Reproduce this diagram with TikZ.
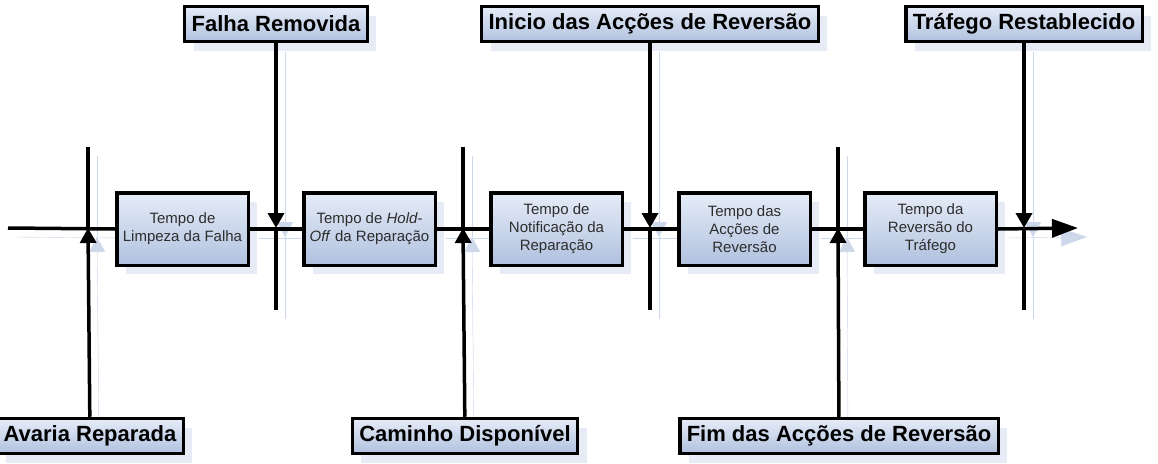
\documentclass[tikz,border=0pt]{standalone}
\usepackage{fontspec}
\newfontfamily\arialfont{Liberation Sans}
\usetikzlibrary{positioning,arrows.meta,shadows,backgrounds}

\definecolor{boxtop}{RGB}{230,236,248}
\definecolor{boxbottom}{RGB}{176,193,222}
\definecolor{shadowblue}{RGB}{205,216,235}
\definecolor{boxtext}{RGB}{45,45,45}

% all timeline strokes, drawn once as shadow and once in ink
\newcommand\timelinks[1]{%
  \draw[#1] (start) -- (limpeza.west);
  \draw[#1] (limpeza.east) -- (holdoff.west);
  \draw[#1] (holdoff.east) -- (notificacao.west);
  \draw[#1] (notificacao.east) -- (accoes.west);
  \draw[#1] (accoes.east) -- (reversao.west);
  \draw[#1,-{Triangle[length=26pt,width=18pt]}] (reversao.east) -- (end);
  \draw[#1,->] (avaria) -- (c1);      \draw[#1] (c1) -- (c1 top);
  \draw[#1,->] (falha) -- (c2);       \draw[#1] (c2) -- (c2 bot);
  \draw[#1,->] (caminho) -- (c3);     \draw[#1] (c3) -- (c3 top);
  \draw[#1,->] (inicio) -- (c4);      \draw[#1] (c4) -- (c4 bot);
  \draw[#1,->] (fim) -- (c5);         \draw[#1] (c5) -- (c5 top);
  \draw[#1,->] (trafego) -- (c6);     \draw[#1] (c6) -- (c6 bot);
}

\begin{document}
\begin{tikzpicture}[x=1pt,y=-1pt,line width=3.5pt,
    >={Triangle[length=15pt,width=16pt]},
    bluefill/.style={draw,line width=3.5pt,top color=boxtop,bottom color=boxbottom,
      drop shadow={shadow xshift=9pt,shadow yshift=-9pt,fill=shadowblue}},
    phase box/.style={bluefill,minimum width=131.5pt,minimum height=72.5pt,align=center,
      inner sep=2pt,text=boxtext,font=\arialfont\fontsize{15}{18}\selectfont},
    event label/.style={bluefill,inner xsep=7pt,inner ysep=2pt,minimum height=35pt,
      font=\arialfont\bfseries\fontsize{22}{26}\selectfont}]
  \useasboundingbox (0,0) rectangle (1158,463);

  % phases along the timeline
  \node[phase box] (limpeza) at (182.5,229) {Tempo de\\Limpeza da Falha};
  \node[phase box, right=52pt of limpeza] (holdoff) {Tempo de \textit{Hold-}\\\textit{Off} da Reparação};
  \node[phase box, right=52pt of holdoff] (notificacao) {Tempo de\\Notificação da\\Reparação};
  \node[phase box, right=53pt of notificacao] (accoes) {Tempo das\\Acções de\\Reversão};
  \node[phase box, right=51pt of accoes] (reversao) {Tempo da\\Reversão do\\Tráfego};

  % events
  \node[event label] (falha) at (276,24) {Falha Removida};
  \node[event label] (inicio) at (650,24) {Inicio das Acções de Reversão};
  \node[event label] (trafego) at (1024,24) {Tráfego Restablecido};
  \node[event label] (avaria) at (90,436) {Avaria Reparada};
  \node[event label] (caminho) at (465,436) {Caminho Disponível};
  \node[event label] (fim) at (839,436) {Fim das Acções de Reversão};

  % crossings and free ends
  \coordinate (start) at (8,228);
  \coordinate (end) at (1078,228);
  \coordinate (c1) at (88,228);   \coordinate (c1 top) at (88,147);
  \coordinate (c2) at (276,228);  \coordinate (c2 bot) at (276,310);
  \coordinate (c3) at (463,228);  \coordinate (c3 top) at (463,147);
  \coordinate (c4) at (650,228);  \coordinate (c4 bot) at (650,310);
  \coordinate (c5) at (838,228);  \coordinate (c5 top) at (838,147);
  \coordinate (c6) at (1024,228); \coordinate (c6 bot) at (1024,310);

  \begin{scope}[on background layer]
    \begin{scope}[transform canvas={shift={(9pt,-9pt)}}]
      \timelinks{draw=shadowblue,fill=shadowblue}
    \end{scope}
  \end{scope}
  \timelinks{draw=black}
\end{tikzpicture}
\end{document}
